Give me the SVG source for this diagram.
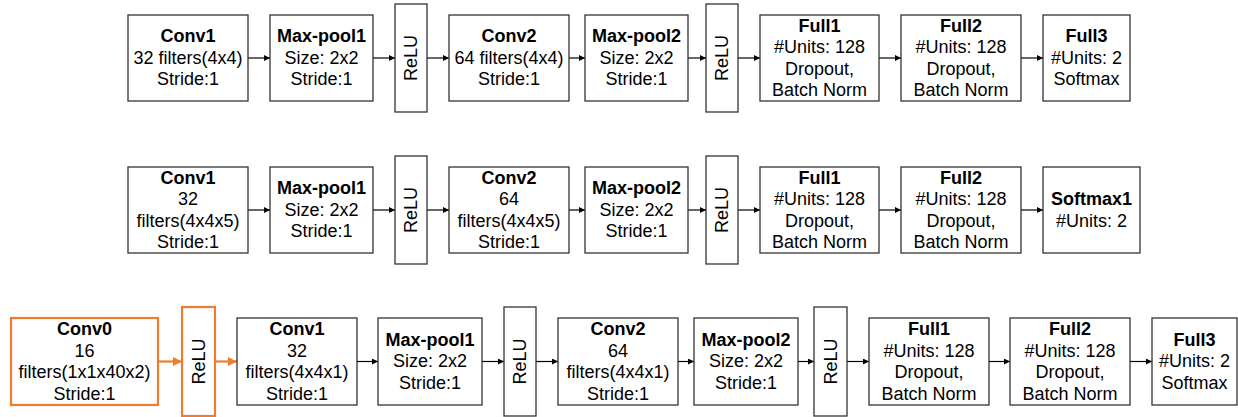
<svg xmlns="http://www.w3.org/2000/svg" width="1238" height="417" viewBox="0 0 1238 417">
<style>
.box{fill:#fff;stroke:#333;stroke-width:1.3}
.obox{fill:#fff;stroke:#ED7D31;stroke-width:2.2}
text{font-family:"Liberation Sans",Arial,sans-serif;font-size:18px;text-anchor:middle;fill:#000}
.b{font-weight:bold}
.ar{stroke:#000;stroke-width:1.2;fill:none;marker-end:url(#ah)}
.oar{stroke:#ED7D31;stroke-width:2.2;fill:none;marker-end:url(#oah)}
</style>
<defs>
<marker id="ah" markerUnits="userSpaceOnUse" markerWidth="7" markerHeight="7" refX="6" refY="3" orient="auto"><path d="M0,0 L6,3 L0,6 z" fill="#000"/></marker>
<marker id="oah" markerUnits="userSpaceOnUse" markerWidth="10" markerHeight="10" refX="9" refY="4.5" orient="auto"><path d="M0,0 L9,4.5 L0,9 z" fill="#ED7D31"/></marker>
</defs>
<rect width="1238" height="417" fill="#fff"/>

<g id="connectors">
<line class="ar" x1="248" y1="58" x2="270" y2="58"/>
<line class="ar" x1="373" y1="58" x2="395" y2="58"/>
<line class="ar" x1="427" y1="58" x2="449" y2="58"/>
<line class="ar" x1="569" y1="58" x2="585" y2="58"/>
<line class="ar" x1="688" y1="58" x2="706" y2="58"/>
<line class="ar" x1="738" y1="58" x2="760" y2="58"/>
<line class="ar" x1="879" y1="58" x2="901" y2="58"/>
<line class="ar" x1="1021" y1="58" x2="1043" y2="58"/>

<line class="ar" x1="248" y1="210" x2="270" y2="210"/>
<line class="ar" x1="373" y1="210" x2="395" y2="210"/>
<line class="ar" x1="427" y1="210" x2="449" y2="210"/>
<line class="ar" x1="569" y1="210" x2="585" y2="210"/>
<line class="ar" x1="688" y1="210" x2="706" y2="210"/>
<line class="ar" x1="738" y1="210" x2="760" y2="210"/>
<line class="ar" x1="879" y1="210" x2="901" y2="210"/>
<line class="ar" x1="1021" y1="210" x2="1043" y2="210"/>

<line class="oar" x1="158" y1="361.5" x2="182" y2="361.5"/>
<line class="oar" x1="215" y1="361.5" x2="237" y2="361.5"/>
<line class="ar" x1="357" y1="361.5" x2="378" y2="361.5"/>
<line class="ar" x1="482" y1="361.5" x2="504" y2="361.5"/>
<line class="ar" x1="536" y1="361.5" x2="558" y2="361.5"/>
<line class="ar" x1="678" y1="361.5" x2="694" y2="361.5"/>
<line class="ar" x1="798" y1="361.5" x2="814" y2="361.5"/>
<line class="ar" x1="847" y1="361.5" x2="869" y2="361.5"/>
<line class="ar" x1="989" y1="361.5" x2="1010" y2="361.5"/>
<line class="ar" x1="1130" y1="361.5" x2="1152" y2="361.5"/>
</g>

<!-- Row 1 -->
<g id="r1-conv1"><rect class="box" x="128" y="15" width="120" height="86"/>
<text x="188" y="42" class="b">Conv1</text><text x="188" y="63.5">32 filters(4x4)</text><text x="188" y="85">Stride:1</text></g>
<g id="r1-pool1"><rect class="box" x="270" y="15" width="103" height="86"/>
<text x="321.5" y="42" class="b">Max-pool1</text><text x="321.5" y="63.5">Size: 2x2</text><text x="321.5" y="85">Stride:1</text></g>
<g id="r1-relu1"><rect class="box" x="395" y="4" width="32" height="108"/>
<text transform="rotate(-90 411 58)" x="411" y="64">ReLU</text></g>
<g id="r1-conv2"><rect class="box" x="449" y="15" width="120" height="86"/>
<text x="509" y="42" class="b">Conv2</text><text x="509" y="63.5">64 filters(4x4)</text><text x="509" y="85">Stride:1</text></g>
<g id="r1-pool2"><rect class="box" x="585" y="15" width="103" height="86"/>
<text x="636.5" y="42" class="b">Max-pool2</text><text x="636.5" y="63.5">Size: 2x2</text><text x="636.5" y="85">Stride:1</text></g>
<g id="r1-relu2"><rect class="box" x="706" y="4" width="32" height="108"/>
<text transform="rotate(-90 722 58)" x="722" y="64">ReLU</text></g>
<g id="r1-full1"><rect class="box" x="760" y="15" width="119" height="86"/>
<text x="819.5" y="31.5" class="b">Full1</text><text x="819.5" y="53">#Units: 128</text><text x="819.5" y="74.5">Dropout,</text><text x="819.5" y="96">Batch Norm</text></g>
<g id="r1-full2"><rect class="box" x="901" y="15" width="120" height="86"/>
<text x="961" y="31.5" class="b">Full2</text><text x="961" y="53">#Units: 128</text><text x="961" y="74.5">Dropout,</text><text x="961" y="96">Batch Norm</text></g>
<g id="r1-full3"><rect class="box" x="1043" y="15" width="87" height="86"/>
<text x="1086.5" y="42" class="b">Full3</text><text x="1086.5" y="63.5">#Units: 2</text><text x="1086.5" y="85">Softmax</text></g>

<!-- Row 2 -->
<g id="r2-conv1"><rect class="box" x="128" y="167" width="120" height="86"/>
<text x="188" y="183.5" class="b">Conv1</text><text x="188" y="205">32</text><text x="188" y="226.5">filters(4x4x5)</text><text x="188" y="248">Stride:1</text></g>
<g id="r2-pool1"><rect class="box" x="270" y="167" width="103" height="86"/>
<text x="321.5" y="194" class="b">Max-pool1</text><text x="321.5" y="215.5">Size: 2x2</text><text x="321.5" y="237">Stride:1</text></g>
<g id="r2-relu1"><rect class="box" x="395" y="156" width="32" height="108"/>
<text transform="rotate(-90 411 210)" x="411" y="216">ReLU</text></g>
<g id="r2-conv2"><rect class="box" x="449" y="167" width="120" height="86"/>
<text x="509" y="183.5" class="b">Conv2</text><text x="509" y="205">64</text><text x="509" y="226.5">filters(4x4x5)</text><text x="509" y="248">Stride:1</text></g>
<g id="r2-pool2"><rect class="box" x="585" y="167" width="103" height="86"/>
<text x="636.5" y="194" class="b">Max-pool2</text><text x="636.5" y="215.5">Size: 2x2</text><text x="636.5" y="237">Stride:1</text></g>
<g id="r2-relu2"><rect class="box" x="706" y="156" width="32" height="108"/>
<text transform="rotate(-90 722 210)" x="722" y="216">ReLU</text></g>
<g id="r2-full1"><rect class="box" x="760" y="167" width="119" height="86"/>
<text x="819.5" y="183.5" class="b">Full1</text><text x="819.5" y="205">#Units: 128</text><text x="819.5" y="226.5">Dropout,</text><text x="819.5" y="248">Batch Norm</text></g>
<g id="r2-full2"><rect class="box" x="901" y="167" width="120" height="86"/>
<text x="961" y="183.5" class="b">Full2</text><text x="961" y="205">#Units: 128</text><text x="961" y="226.5">Dropout,</text><text x="961" y="248">Batch Norm</text></g>
<g id="r2-softmax1"><rect class="box" x="1043" y="167" width="97" height="86"/>
<text x="1091.5" y="205" class="b">Softmax1</text><text x="1091.5" y="226.5">#Units: 2</text></g>

<!-- Row 3 -->
<g id="r3-conv0"><rect class="obox" x="11" y="318" width="147" height="87"/>
<text x="84.5" y="335" class="b">Conv0</text><text x="84.5" y="356.5">16</text><text x="84.5" y="378">filters(1x1x40x2)</text><text x="84.5" y="399.5">Stride:1</text></g>
<g id="r3-relu0"><rect class="obox" x="182" y="307" width="33" height="109"/>
<text transform="rotate(-90 198.5 361.5)" x="198.5" y="367.5">ReLU</text></g>
<g id="r3-conv1"><rect class="box" x="237" y="318" width="120" height="87"/>
<text x="297" y="335" class="b">Conv1</text><text x="297" y="356.5">32</text><text x="297" y="378">filters(4x4x1)</text><text x="297" y="399.5">Stride:1</text></g>
<g id="r3-pool1"><rect class="box" x="378" y="318" width="104" height="87"/>
<text x="430" y="345.5" class="b">Max-pool1</text><text x="430" y="367">Size: 2x2</text><text x="430" y="388.5">Stride:1</text></g>
<g id="r3-relu1"><rect class="box" x="504" y="307" width="32" height="109"/>
<text transform="rotate(-90 520 361.5)" x="520" y="367.5">ReLU</text></g>
<g id="r3-conv2"><rect class="box" x="558" y="318" width="120" height="87"/>
<text x="618" y="335" class="b">Conv2</text><text x="618" y="356.5">64</text><text x="618" y="378">filters(4x4x1)</text><text x="618" y="399.5">Stride:1</text></g>
<g id="r3-pool2"><rect class="box" x="694" y="318" width="104" height="87"/>
<text x="746" y="345.5" class="b">Max-pool2</text><text x="746" y="367">Size: 2x2</text><text x="746" y="388.5">Stride:1</text></g>
<g id="r3-relu2"><rect class="box" x="814" y="307" width="33" height="109"/>
<text transform="rotate(-90 830.5 361.5)" x="830.5" y="367.5">ReLU</text></g>
<g id="r3-full1"><rect class="box" x="869" y="318" width="120" height="87"/>
<text x="929" y="335" class="b">Full1</text><text x="929" y="356.5">#Units: 128</text><text x="929" y="378">Dropout,</text><text x="929" y="399.5">Batch Norm</text></g>
<g id="r3-full2"><rect class="box" x="1010" y="318" width="120" height="87"/>
<text x="1070" y="335" class="b">Full2</text><text x="1070" y="356.5">#Units: 128</text><text x="1070" y="378">Dropout,</text><text x="1070" y="399.5">Batch Norm</text></g>
<g id="r3-full3"><rect class="box" x="1152" y="318" width="85" height="87"/>
<text x="1194.5" y="345.5" class="b">Full3</text><text x="1194.5" y="367">#Units: 2</text><text x="1194.5" y="388.5">Softmax</text></g>
</svg>
